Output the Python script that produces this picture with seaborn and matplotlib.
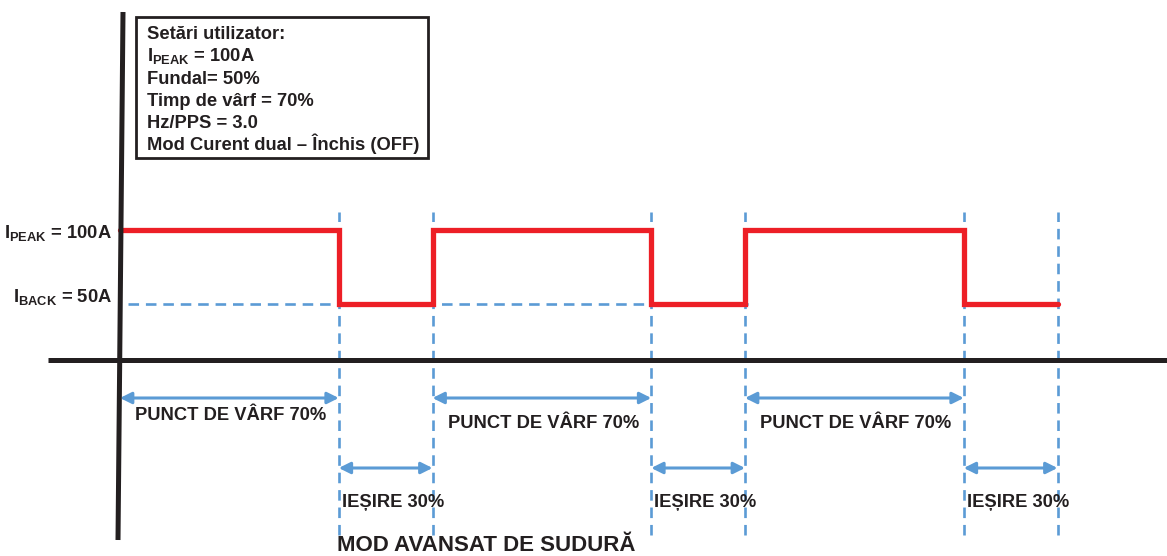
import matplotlib
matplotlib.use("Agg")
import matplotlib.pyplot as plt
import matplotlib.patches as mpatches
import pandas as pd
import seaborn as sns

# valori citite din diagrama
i_peak = 100
i_back = 50
timp_varf = 0.70
margini = [0, 0.7, 1.0, 1.7, 2.0, 2.7, 3.0]
curent = [100, 50, 100, 50, 100, 50, 50]
setari = ["Setări utilizator:",
          r"I$_{\mathbf{PEAK}}$ = 100A",
          "Fundal= 50%",
          "Timp de vârf = 70%",
          "Hz/PPS = 3.0",
          "Mod Curent dual – Închis (OFF)"]
eticheta_peak = r"I$_{\mathbf{PEAK}}$ = 100A"
eticheta_back = r"I$_{\mathbf{BACK}}$ = 50A"
eticheta_varf = "PUNCT DE VÂRF 70%"
eticheta_iesire = "IEȘIRE 30%"
titlu = "MOD AVANSAT DE SUDURĂ"

ROSU = "#ed1f26"
ALBASTRU = "#5b9bd5"
NEGRU = "#231f20"

sns.set_theme(style="white")
plt.rcParams["font.family"] = ["Liberation Sans", "DejaVu Sans"]
plt.rcParams["mathtext.fontset"] = "custom"
plt.rcParams["mathtext.rm"] = "Liberation Sans"
plt.rcParams["mathtext.bf"] = "Liberation Sans:bold"

W, H = 1167, 556
fig = plt.figure(figsize=(W / 100, H / 100), dpi=100)
ax = fig.add_axes([0, 0, 1, 1])
ax.axis("off")

# scara: t=0 la x=120px, un ciclu = 312.5px; 100A la y=230px, 50A la y=304px
px_ciclu = 312.5
amp_px = (i_peak - i_back) / 74.0
ax.set_xlim(-120 / px_ciclu, (W - 120) / px_ciclu)
ax.set_ylim(i_back - (H - 304) * amp_px, i_peak + 230 * amp_px)

def fy(p):
    return 1 - p / H

tx = ax.get_xaxis_transform()
FS = 13.2

# linii verticale punctate
for t in margini[1:]:
    ax.axvline(t, ymin=fy(535), ymax=fy(212), color=ALBASTRU, lw=1.9,
               dashes=(4, 2.6), zorder=1)
# linia punctata la I_BACK
ax.hlines(i_back, margini[0] + 0.026, margini[4] + 0.016, color=ALBASTRU,
          lw=1.9, linestyles=(0, (4, 2.6)), zorder=1)

# forma de unda
df = pd.DataFrame({"t": margini, "I": curent})
sns.lineplot(data=df, x="t", y="I", drawstyle="steps-post", color=ROSU,
             lw=3.8, ax=ax, zorder=3, solid_joinstyle="miter")

# axe
ax.plot([48 / W, 1], [fy(360), fy(360)], transform=ax.transAxes,
        color=NEGRU, lw=3.6, solid_capstyle="butt", zorder=4)
ax.plot([123 / W, 118 / W], [fy(12), fy(540)], transform=ax.transAxes,
        color=NEGRU, lw=3.6, solid_capstyle="butt", zorder=4)

# sageti si etichete
sag = dict(arrowstyle="<|-|>", color=ALBASTRU, lw=2.2, mutation_scale=17,
           shrinkA=0, shrinkB=0)
for k in range(3):
    ax.annotate("", xy=(k + timp_varf, fy(398)), xytext=(k, fy(398)),
                xycoords=tx, textcoords=tx, arrowprops=sag, zorder=5)
    ax.annotate("", xy=(k + 1, fy(468)), xytext=(k + timp_varf, fy(468)),
                xycoords=tx, textcoords=tx, arrowprops=sag, zorder=5)
    yv = fy(420) if k == 0 else fy(428)
    ax.text(k + timp_varf / 2 + 0.005, yv, eticheta_varf, transform=tx,
            ha="center", va="baseline", fontsize=FS, fontweight="bold",
            color=NEGRU)
    ax.text(k + timp_varf + 0.01, fy(507), eticheta_iesire, transform=tx,
            ha="left", va="baseline", fontsize=FS, fontweight="bold",
            color=NEGRU)

# etichete pe axa verticala
ax.text(112 / W, fy(238), eticheta_peak, transform=ax.transAxes, ha="right",
        va="baseline", fontsize=FS, fontweight="bold", color=NEGRU)
ax.text(112 / W, fy(302), eticheta_back, transform=ax.transAxes, ha="right",
        va="baseline", fontsize=FS, fontweight="bold", color=NEGRU)

# caseta cu setari
ax.add_patch(mpatches.Rectangle((136 / W, fy(158)), 292 / W, 141 / H,
                                transform=ax.transAxes, fill=True,
                                facecolor="white", edgecolor=NEGRU, lw=2,
                                zorder=6))
for i, s in enumerate(setari):
    ax.text(147 / W, fy(39 + i * 22.3), s, transform=ax.transAxes,
            ha="left", va="baseline", fontsize=FS, fontweight="bold",
            color=NEGRU, zorder=7)

# titlu jos
ax.text(486 / W, fy(551), titlu, transform=ax.transAxes, ha="center",
        va="baseline", fontsize=16, fontweight="bold", color=NEGRU)

fig.savefig("out.png", dpi=100)
